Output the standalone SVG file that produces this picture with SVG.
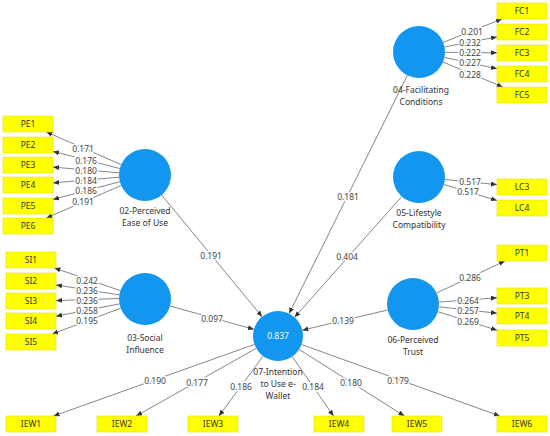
<svg xmlns="http://www.w3.org/2000/svg" width="550" height="436" viewBox="0 0 550 436">
<style>
text{font-family:"Noto Sans","Open Sans","Liberation Sans",sans-serif;font-size:8.5px;text-anchor:middle}
.lv{fill:#1296f0}
.ind{fill:#ffff00;stroke:#e3e300;stroke-width:0.6}
.it{fill:#333}
.nl{fill:#333}
.cf{fill:#444;stroke:#fff;stroke-width:3;paint-order:stroke;stroke-linejoin:round}
.ln{stroke:#666;stroke-width:0.8;fill:none;marker-end:url(#ah)}
.r2{fill:#fff}
</style>
<defs>
<marker id="ah" markerUnits="userSpaceOnUse" markerWidth="6" markerHeight="5" refX="6" refY="2.5" orient="auto">
<path d="M0,0 L6,2.5 L0,5 z" fill="#333"/>
</marker>
</defs>
<rect width="550" height="436" fill="#fff"/>
<g id="connectors">
<line class="ln" x1="121.2" y1="164.6" x2="46.4" y2="132"/>
<line class="ln" x1="119.8" y1="168.5" x2="53" y2="151.4"/>
<line class="ln" x1="119.1" y1="172.8" x2="53" y2="167.1"/>
<line class="ln" x1="119.1" y1="177.2" x2="53" y2="182.9"/>
<line class="ln" x1="119.9" y1="181.7" x2="53" y2="199.4"/>
<line class="ln" x1="121.2" y1="185.4" x2="46.4" y2="218"/>
<line class="ln" x1="120.4" y1="290.6" x2="54.4" y2="268"/>
<line class="ln" x1="119.3" y1="294.9" x2="56" y2="284.9"/>
<line class="ln" x1="119" y1="298.5" x2="56" y2="300.6"/>
<line class="ln" x1="119.5" y1="303.9" x2="56" y2="316.2"/>
<line class="ln" x1="120.7" y1="308.2" x2="52.2" y2="334"/>
<line class="ln" x1="443.1" y1="42.4" x2="501.9" y2="19"/>
<line class="ln" x1="444.5" y1="47" x2="497" y2="36.9"/>
<line class="ln" x1="445" y1="52.3" x2="497" y2="52.8"/>
<line class="ln" x1="444.4" y1="57.4" x2="497" y2="68.7"/>
<line class="ln" x1="443" y1="62" x2="502.8" y2="87"/>
<line class="ln" x1="444.9" y1="179.5" x2="497" y2="184.6"/>
<line class="ln" x1="443.9" y1="184.5" x2="497" y2="200.5"/>
<line class="ln" x1="436.6" y1="293" x2="504.9" y2="261"/>
<line class="ln" x1="438.9" y1="302.1" x2="497" y2="297.8"/>
<line class="ln" x1="438.8" y1="306.8" x2="497" y2="313.2"/>
<line class="ln" x1="437.8" y1="311.7" x2="497" y2="330.2"/>
<line class="ln" x1="254.5" y1="344.4" x2="53.5" y2="416"/>
<line class="ln" x1="256.2" y1="348.3" x2="136.2" y2="416"/>
<line class="ln" x1="263.1" y1="356.1" x2="218.9" y2="416"/>
<line class="ln" x1="292.2" y1="356.5" x2="333.5" y2="416"/>
<line class="ln" x1="299.1" y1="349.4" x2="404.4" y2="416"/>
<line class="ln" x1="301.5" y1="344.5" x2="499.8" y2="416"/>
<line class="ln" x1="161.6" y1="195" x2="262.1" y2="316.7"/>
<line class="ln" x1="170.1" y1="306" x2="253.9" y2="329.3"/>
<line class="ln" x1="407.4" y1="75.3" x2="289.1" y2="313.6"/>
<line class="ln" x1="401.7" y1="196.5" x2="294.6" y2="317.3"/>
<line class="ln" x1="387.7" y1="310" x2="302.3" y2="330.2"/>
<text class="cf" x="83" y="152">0.171</text>
<text class="cf" x="86" y="164">0.176</text>
<text class="cf" x="86" y="174">0.180</text>
<text class="cf" x="86" y="184">0.184</text>
<text class="cf" x="86" y="194">0.186</text>
<text class="cf" x="83" y="205">0.191</text>
<text class="cf" x="87" y="284">0.242</text>
<text class="cf" x="87" y="294">0.236</text>
<text class="cf" x="87" y="304">0.236</text>
<text class="cf" x="87" y="314">0.258</text>
<text class="cf" x="87" y="324">0.195</text>
<text class="cf" x="472" y="35">0.201</text>
<text class="cf" x="470" y="45.5">0.232</text>
<text class="cf" x="470" y="56">0.222</text>
<text class="cf" x="470" y="66">0.227</text>
<text class="cf" x="470" y="77.5">0.228</text>
<text class="cf" x="470" y="185">0.517</text>
<text class="cf" x="468" y="195">0.517</text>
<text class="cf" x="470" y="281">0.286</text>
<text class="cf" x="468" y="304">0.264</text>
<text class="cf" x="468" y="314">0.257</text>
<text class="cf" x="468" y="325">0.269</text>
<text class="cf" x="155" y="384">0.190</text>
<text class="cf" x="197" y="386">0.177</text>
<text class="cf" x="241" y="390">0.186</text>
<text class="cf" x="313" y="390">0.184</text>
<text class="cf" x="351" y="386">0.180</text>
<text class="cf" x="398" y="384">0.179</text>
<text class="cf" x="211" y="259">0.191</text>
<text class="cf" x="212" y="322">0.097</text>
<text class="cf" x="348" y="200">0.181</text>
<text class="cf" x="347" y="260">0.404</text>
<text class="cf" x="343" y="324">0.139</text>
</g>
<g id="PE"><circle class="lv" cx="145" cy="175" r="26"/><text class="nl" x="145" y="214">02-Perceived</text><text class="nl" x="145" y="226">Ease of Use</text></g>
<g id="SI"><circle class="lv" cx="145" cy="299" r="26"/><text class="nl" x="145" y="341">03-Social</text><text class="nl" x="145" y="353">Influence</text></g>
<g id="FC"><circle class="lv" cx="419" cy="52" r="26"/><text class="nl" x="421" y="93">04-Facilitating</text><text class="nl" x="421" y="105">Conditions</text></g>
<g id="LC"><circle class="lv" cx="419" cy="177" r="26"/><text class="nl" x="419" y="216">05-Lifestyle</text><text class="nl" x="419" y="228">Compatibility</text></g>
<g id="PT"><circle class="lv" cx="413" cy="304" r="26"/><text class="nl" x="413" y="343">06-Perceived</text><text class="nl" x="413" y="355">Trust</text></g>
<g id="IEW"><circle class="lv" cx="278" cy="336" r="25"/><text class="r2" x="278" y="339">0.837</text><text class="nl" x="278" y="375">07-Intention</text><text class="nl" x="278" y="387">to Use e-</text><text class="nl" x="278" y="399">Wallet</text></g>
<g id="PE1"><rect class="ind" x="3" y="116" width="50" height="16"/><text class="it" x="28" y="127">PE1</text></g>
<g id="PE2"><rect class="ind" x="3" y="137" width="50" height="16"/><text class="it" x="28" y="148">PE2</text></g>
<g id="PE3"><rect class="ind" x="3" y="157" width="50" height="16"/><text class="it" x="28" y="168">PE3</text></g>
<g id="PE4"><rect class="ind" x="3" y="177" width="50" height="16"/><text class="it" x="28" y="188">PE4</text></g>
<g id="PE5"><rect class="ind" x="3" y="198" width="50" height="16"/><text class="it" x="28" y="209">PE5</text></g>
<g id="PE6"><rect class="ind" x="3" y="218" width="50" height="16"/><text class="it" x="28" y="229">PE6</text></g>
<g id="SI1"><rect class="ind" x="6" y="252" width="50" height="16"/><text class="it" x="31" y="263">SI1</text></g>
<g id="SI2"><rect class="ind" x="6" y="273" width="50" height="16"/><text class="it" x="31" y="284">SI2</text></g>
<g id="SI3"><rect class="ind" x="6" y="293" width="50" height="16"/><text class="it" x="31" y="304">SI3</text></g>
<g id="SI4"><rect class="ind" x="6" y="313" width="50" height="16"/><text class="it" x="31" y="324">SI4</text></g>
<g id="SI5"><rect class="ind" x="6" y="334" width="50" height="16"/><text class="it" x="31" y="345">SI5</text></g>
<g id="FC1"><rect class="ind" x="497" y="3" width="50" height="16"/><text class="it" x="522" y="14">FC1</text></g>
<g id="FC2"><rect class="ind" x="497" y="24" width="50" height="16"/><text class="it" x="522" y="35">FC2</text></g>
<g id="FC3"><rect class="ind" x="497" y="45" width="50" height="16"/><text class="it" x="522" y="56">FC3</text></g>
<g id="FC4"><rect class="ind" x="497" y="66" width="50" height="16"/><text class="it" x="522" y="77">FC4</text></g>
<g id="FC5"><rect class="ind" x="497" y="87" width="50" height="16"/><text class="it" x="522" y="98">FC5</text></g>
<g id="LC3"><rect class="ind" x="497" y="179" width="50" height="16"/><text class="it" x="522" y="190">LC3</text></g>
<g id="LC4"><rect class="ind" x="497" y="200" width="50" height="16"/><text class="it" x="522" y="211">LC4</text></g>
<g id="PT1"><rect class="ind" x="497" y="245" width="50" height="16"/><text class="it" x="522" y="256">PT1</text></g>
<g id="PT3"><rect class="ind" x="497" y="288" width="50" height="16"/><text class="it" x="522" y="299">PT3</text></g>
<g id="PT4"><rect class="ind" x="497" y="308" width="50" height="16"/><text class="it" x="522" y="319">PT4</text></g>
<g id="PT5"><rect class="ind" x="497" y="330" width="50" height="16"/><text class="it" x="522" y="341">PT5</text></g>
<g id="IEW1"><rect class="ind" x="6" y="416" width="50" height="16"/><text class="it" x="31" y="427">IEW1</text></g>
<g id="IEW2"><rect class="ind" x="97" y="416" width="50" height="16"/><text class="it" x="122" y="427">IEW2</text></g>
<g id="IEW3"><rect class="ind" x="188" y="416" width="50" height="16"/><text class="it" x="213" y="427">IEW3</text></g>
<g id="IEW4"><rect class="ind" x="314" y="416" width="50" height="16"/><text class="it" x="339" y="427">IEW4</text></g>
<g id="IEW5"><rect class="ind" x="392" y="416" width="50" height="16"/><text class="it" x="417" y="427">IEW5</text></g>
<g id="IEW6"><rect class="ind" x="497" y="416" width="50" height="16"/><text class="it" x="522" y="427">IEW6</text></g>
</svg>
